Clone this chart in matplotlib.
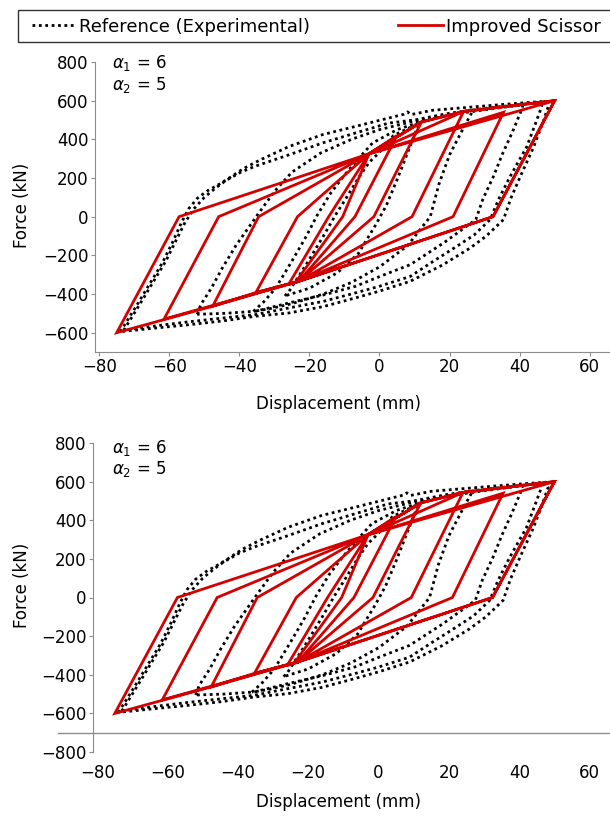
import matplotlib
matplotlib.use('Agg')
import matplotlib.pyplot as plt
from matplotlib.transforms import blended_transform_factory
from matplotlib.patches import Rectangle

plt.rcParams['font.family'] = ['DejaVu Sans']
plt.rcParams['mathtext.fontset'] = 'dejavusans'

# ---------------- data ----------------
x_ticks = [-80, -60, -40, -20, 0, 20, 40, 60]
y_ticks_top = [-600, -400, -200, 0, 200, 400, 600, 800]
y_ticks_bottom = [-800, -600, -400, -200, 0, 200, 400, 600, 800]
alpha_labels = [r'$\alpha_1$ = 6', r'$\alpha_2$ = 5']
legend_labels = ['Reference (Experimental)', 'Improved Scissor']

# Improved Scissor model (piecewise linear path)
model_disp = [-3, 12, -1.6, -23, -26, -14.5, -3, 5, -7, -23, -24, -10.5,
              -3, 12, 24, 9.3, -23, -35.3, -23.4, -3, 35.4, 21.0, -23, -35.3, -47.6, -34.5,
              -3, 12, 24, 50, 32.4, -23, -61.5, -45.9, -3, 24, 50, 32.4, -23, -47.6, -75, -57.2, -3, 50]
model_force = [325, 490, 0, -334, -352, 0, 325, 420, 0, -334, -340, 0,
               325, 490, 544, 0, -334, -393, 0, 325, 540, 0, -334, -393, -463, 0,
               325, 490, 544, 600, 0, -334, -530, 0, 325, 544, 600, 0, -334, -463, -600, 0, 325, 600]

# Experimental loops
exp1_disp = [-74, -70, -66, -62, -59, -56.5, -54.5, -52, -49, -46, -43.3, -38.7, -33.9, -25.8, -16.3,
             -6.8, 2.6, 7, 8, 9, 15, 25, 35, 42, 47.5, 48.2, 46.5, 44, 40.2, 37.5, 35.4, 30.5,
             25.9, 18, 8.8, 0, -6.8, -16, -25.8, -35.3, -45, -55, -65, -74]
exp1_force = [-595, -480, -360, -240, -130, -30, 40, 95, 135, 165, 195, 250, 295, 363, 424,
              467, 510, 530, 542, 528, 550, 565, 580, 590, 597, 570, 480, 360, 208, 95, -15, -100,
              -162, -250, -334, -385, -420, -465, -498, -515, -540, -560, -578, -595]

exp2_disp = [-73, -69, -65, -61, -58, -55.5, -53, -50, -47, -44, -39.6, -35.3, -25.8, -16.3, -6.8,
             2.6, 10.3, 20, 30, 40, 46, 46.3, 44.5, 42, 39.5, 37.3, 34, 31.6, 27, 22.1,
             15, 8.8, 0, -6.8, -16, -25.8, -35.3, -45, -55, -64, -73]
exp2_force = [-588, -470, -350, -230, -120, -30, 40, 100, 145, 185, 230, 262, 320, 381, 433,
              484, 501, 535, 560, 580, 590, 570, 480, 360, 280, 208, 90, -15, -95, -153,
              -235, -309, -360, -394, -438, -472, -506, -525, -545, -565, -588]

exp3_disp = [-52, -51, -48, -45, -41, -37.5, -34.8, -30, -25, -16.8, -8, 0, 10, 25, 35, 41,
             40.2, 38, 35, 32.5, 29.5, 27.5, 18.3, 8.8, 0, -6.8, -16, -25.8, -35.3, -44, -52]
exp3_force = [-505, -455, -370, -270, -150, -60, 10, 130, 230, 329, 400, 450, 495, 540, 565, 578,
              537, 440, 320, 207, 90, -15, -136, -248, -310, -360, -405, -446, -489, -500, -505]

exp4_disp = [-36, -33, -29.6, -25, -21, -17.7, -14, -10, -6, -2, 5, 15, 27, 26.8, 24, 20, 17,
             14.5, 8, 0, -8, -16, -25, -31, -36]
exp4_force = [-490, -440, -369, -230, -105, 10, 120, 215, 300, 381, 450, 510, 550, 553, 460,
              320, 170, 0, -150, -260, -340, -400, -450, -475, -490]

exp5_disp = [-27, -25.8, -21, -16, -12.5, -9.7, -6, -3, -0.2, 4, 12, 11, 8, 5, 2, -1, -6, -12, -20, -27]
exp5_force = [-410, -386, -250, -100, 10, 90, 200, 280, 329, 420, 490, 470, 330, 190, 60, -40,
              -190, -290, -370, -410]

exp_loops = [(exp1_disp, exp1_force), (exp2_disp, exp2_force), (exp3_disp, exp3_force),
             (exp4_disp, exp4_force), (exp5_disp, exp5_force)]

# ---------------- styling ----------------
W, H = 610, 818
RED = '#d40000'
GRAY = '#8c8c8c'
FS = 12
LFS = 13

fig = plt.figure(figsize=(W / 100, H / 100), dpi=100)

def px_axes(left, top, right, bottom):
    return fig.add_axes([left / W, 1 - bottom / H, (right - left) / W, (bottom - top) / H])

ax_top = px_axes(95, 62, 610, 352)
ax_bot = px_axes(93, 443, 610, 752)

handles = None
for ax, yt, ylim in [(ax_top, y_ticks_top, (-700, 800)), (ax_bot, y_ticks_bottom, (-800, 800))]:
    lines = []
    for i, (d, f) in enumerate(exp_loops):
        ln, = ax.plot(d, f, color='black', linestyle=(0, (1, 1.3)), linewidth=2.0,
                      label=legend_labels[0] if i == 0 else None, zorder=2)
        if i == 0:
            lines.append(ln)
    lm, = ax.plot(model_disp, model_force, color=RED, linewidth=2.0, label=legend_labels[1], zorder=3,
                  solid_joinstyle='miter')
    lines.append(lm)
    if handles is None:
        handles = lines
    ax.set_xlim(-81.2, 65.8)
    ax.set_ylim(*ylim)
    ax.set_xticks(x_ticks)
    ax.set_yticks(yt)
    for s in ['top', 'right']:
        ax.spines[s].set_visible(False)
    ax.spines['left'].set_color(GRAY)
    ax.spines['bottom'].set_color(GRAY)
    ax.tick_params(axis='both', colors=GRAY, labelcolor='black', labelsize=FS, length=3, width=0.8)
    ax.tick_params(axis='y', pad=1.5)
    ax.set_xlabel('Displacement (mm)', fontsize=FS)
    ax.set_ylabel('Force (kN)', fontsize=FS)

# top panel specifics
ax_top.tick_params(axis='x', pad=1.5)
ax_top.xaxis.set_label_coords((339 - 95) / 515, (352 - 395) / 290)
ax_top.yaxis.set_label_coords((31 - 95) / 515, (352 - 205) / 290)

# bottom panel specifics
ax_bot.spines['bottom'].set_visible(False)
ax_bot.tick_params(axis='x', length=0, pad=9)
trans = blended_transform_factory(ax_bot.transAxes, ax_bot.transData)
ax_bot.plot([-(93 - 58) / 517, 1.0], [-700, -700], color=GRAY, linewidth=1.0,
            transform=trans, clip_on=False, zorder=1)
ax_bot.xaxis.set_label_coords((339 - 93) / 517, (752 - 793) / 309)
ax_bot.yaxis.set_label_coords((31 - 93) / 517, (752 - 585) / 309)

# alpha annotations
for (y1, y2) in [(63, 85), (448, 469)]:
    fig.text(112 / W, 1 - y1 / H, alpha_labels[0], fontsize=FS, va='center', ha='left')
    fig.text(112 / W, 1 - y2 / H, alpha_labels[1], fontsize=FS, va='center', ha='left')

# legend
leg = fig.legend(handles=handles, labels=legend_labels, loc='center left',
                 bbox_to_anchor=(31.5 / W, 1 - 26.5 / H), ncol=2, fontsize=LFS,
                 frameon=False, borderaxespad=0, borderpad=0,
                 handlelength=2.45, handletextpad=0.17, columnspacing=4.9)
fig.add_artist(Rectangle((18.3 / W, 1 - 41.7 / H), (640 - 18.3) / W, 31.7 / H,
                         transform=fig.transFigure, fill=False, edgecolor='#333333',
                         linewidth=1.0))

fig.savefig('out.png', dpi=100)
